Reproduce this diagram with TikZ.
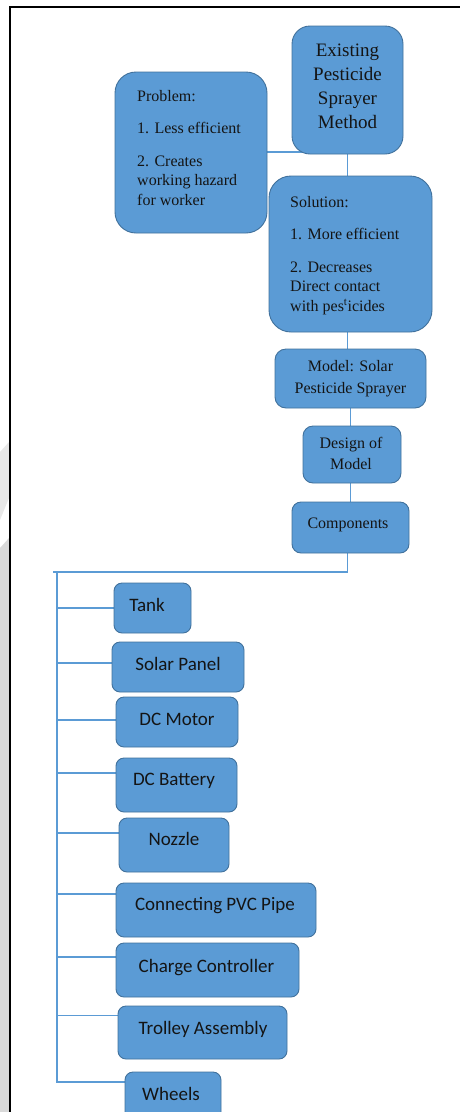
\documentclass[tikz,border=0pt]{standalone}
\usepackage{fontspec}
\setmainfont{Liberation Serif}
\newfontfamily\calfont{Carlito}
\usetikzlibrary{backgrounds}
\definecolor{boxfill}{HTML}{5B9BD5}
\definecolor{boxline}{HTML}{41719C}
\definecolor{connc}{HTML}{5B9BD5}
\definecolor{txt}{HTML}{141414}
\definecolor{stripgrey}{HTML}{D9D9D9}
\begin{document}
\begin{tikzpicture}[x=1pt,y=-1pt,
  box/.style={draw=boxline, fill=boxfill, line width=0.9pt, inner sep=0pt},
  conn/.style={draw=connc, line width=1.3pt},
  serif/.style={inner sep=0pt, text=txt, font=\fontsize{16}{19.5}\selectfont},
  comp/.style={inner sep=0pt, text=txt, font=\calfont\fontsize{19}{23}\selectfont, anchor=base},
]
\useasboundingbox (0,0) rectangle (460,1112);
\clip (0,0) rectangle (460,1112);
% page edge
\fill[stripgrey!60] (0,452)--(9,442)--(9,498)--(0,520)--cycle;
\fill[stripgrey] (0,548)--(9,538)--(9,1112)--(0,1112)--cycle;
\draw[black, line width=2.2pt, line join=miter] (10,1112) -- (10,7) -- (460,7);

% upper boxes
\node[box, rounded corners=18pt, minimum width=111pt, minimum height=128pt] (exist) at (347.5,90) {};
\node[serif, align=center, font=\fontsize{19}{24}\selectfont] (exist-t) at (347.5,86) {Existing\\Pesticide\\Sprayer\\Method};

\node[box, rounded corners=21pt, minimum width=152pt, minimum height=161pt] (prob) at (191,152.5) {};
\node[serif, align=left, anchor=north west] (prob-t) at (137,90) {Problem:\\[13pt]1. Less efficient\\[13pt]2. Creates\\working hazard\\for worker};

\node[box, rounded corners=22pt, minimum width=163pt, minimum height=156pt] (sol) at (350.5,254) {};
\node[serif, align=left, anchor=north west] (sol-t) at (290,196) {Solution:\\[13pt]1. More efficient\\[13pt]2. Decreases\\Direct contact\\with pes\textsuperscript{t}icides};

\node[box, rounded corners=11pt, minimum width=151pt, minimum height=59pt] (model) at (350.5,378.5) {};
\node[serif, align=center, font=\fontsize{16}{22}\selectfont] (model-t) at (350.5,379) {Model: Solar\\Pesticide Sprayer};

\node[box, rounded corners=10pt, minimum width=98pt, minimum height=57pt] (design) at (352,454.5) {};
\node[serif, align=center, font=\fontsize{16}{21}\selectfont] (design-t) at (351,453) {Design of\\Model};

\node[box, rounded corners=9pt, minimum width=117pt, minimum height=51pt] (comp) at (350.5,527.5) {};
\node[serif, anchor=base] (comp-t) at (348,528) {Components};

% component boxes
\tikzset{cbox/.style={box, rounded corners=8pt}}
\node[cbox, minimum width=77pt,  minimum height=50pt] (tank)    at (152.5,608) {};
\node[cbox, minimum width=132pt, minimum height=50pt] (solar)   at (178,667) {};
\node[cbox, minimum width=122pt, minimum height=50pt] (motor)   at (177,722) {};
\node[cbox, minimum width=121pt, minimum height=54pt] (batt)    at (176.5,785) {};
\node[cbox, minimum width=110pt, minimum height=54pt] (nozzle)  at (174,845) {};
\node[cbox, minimum width=200pt, minimum height=54pt] (pipe)    at (216,910) {};
\node[cbox, minimum width=183pt, minimum height=54pt] (charge)  at (207.5,970) {};
\node[cbox, minimum width=169pt, minimum height=53pt] (trolley) at (202.5,1032.5) {};
\node[cbox, minimum width=96pt,  minimum height=50pt] (wheels)  at (173,1097) {};

\node[comp] (tank-t)    at (147,611)   {Tank};
\node[comp] (solar-t)   at (178,670)   {Solar Panel};
\node[comp] (motor-t)   at (177,725)   {DC Motor};
\node[comp] (batt-t)    at (174,785)   {DC Battery};
\node[comp] (nozzle-t)  at (174,845)   {Nozzle};
\node[comp] (pipe-t)    at (215,910)   {Connecting PVC Pipe};
\node[comp] (charge-t)  at (206.5,972) {Charge Controller};
\node[comp] (trolley-t) at (203,1034)  {Trolley Assembly};
\node[comp] (wheels-t)  at (171,1100)  {Wheels};

% connector points
\coordinate (y152) at (0,152);
\coordinate (busL) at (53,572);
\coordinate (tt) at (57,572);
\coordinate (bTank) at (tank.west);
\coordinate (bSolar) at ([yshift=4pt]solar.west);
\coordinate (bMotor) at ([yshift=2pt]motor.west);
\coordinate (bBatt) at ([yshift=12pt]batt.west);
\coordinate (bNozzle) at ([yshift=12pt]nozzle.west);
\coordinate (bPipe) at ([yshift=16pt]pipe.west);
\coordinate (bCharge) at ([yshift=13pt]charge.west);
\coordinate (bTrolley) at ([yshift=17pt]trolley.west);
\coordinate (bWheels) at ([yshift=15pt]wheels.west);

\begin{scope}[on background layer]
\draw[conn] (prob.east |- y152) -- (exist.center |- y152);
\draw[conn] (exist.south) -- (exist.south |- sol.north);
\draw[conn] (exist.south |- sol.south) -- (exist.south |- model.north);
\draw[conn] (model.south) -- (model.south |- design.north);
\draw[conn] (model.south |- design.south) -- (model.south |- comp.north);
\draw[conn] (exist.south |- comp.south) -- (exist.south |- busL) -- (busL);
\draw[conn] (tt) -- (tt |- bWheels) -- (bWheels);
\draw[conn] (tt |- bTank) -- (bTank);
\draw[conn] (tt |- bSolar) -- (bSolar);
\draw[conn] (tt |- bMotor) -- (bMotor);
\draw[conn] (tt |- bBatt) -- (bBatt);
\draw[conn] (tt |- bNozzle) -- (bNozzle);
\draw[conn] (tt |- bPipe) -- (bPipe);
\draw[conn] (tt |- bCharge) -- (bCharge);
\draw[conn] (tt |- bTrolley) -- (bTrolley);
\end{scope}
\end{tikzpicture}
\end{document}
